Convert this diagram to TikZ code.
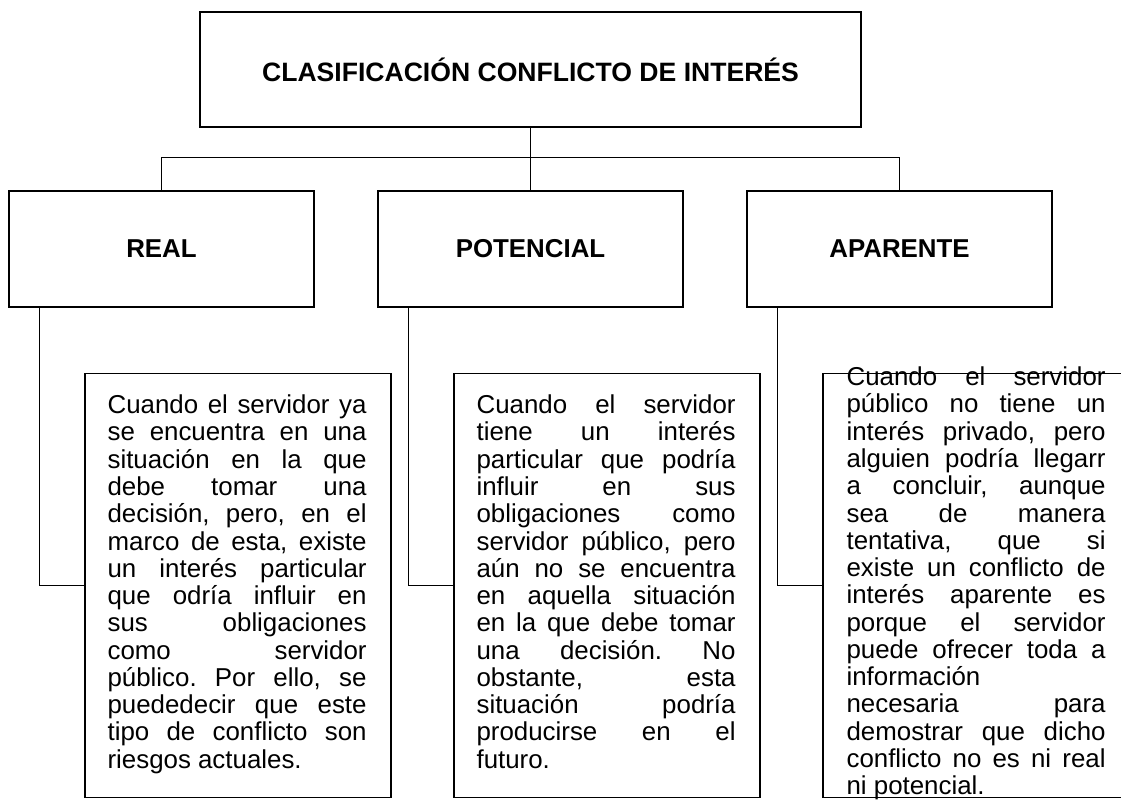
\documentclass[tikz,border=0pt]{standalone}
\usepackage{fontspec}
\setmainfont{Liberation Sans}
\usepackage{tikz}
\usetikzlibrary{positioning}

\newcommand{\bodyfont}{\fontsize{18.4}{19.4}\selectfont\frenchspacing
  \hyphenpenalty=10000\relax\exhyphenpenalty=10000\relax\hbadness=10000\relax}

\tikzset{
  rootbox/.style={draw, line width=1pt, minimum width=16.525cm, minimum height=2.875cm,
    font=\fontsize{18.9}{20}\selectfont\bfseries},
  headbox/.style={draw, line width=1pt, minimum width=7.625cm, minimum height=2.9cm,
    font=\fontsize{18.4}{19.6}\selectfont\bfseries},
  txtframe/.style={draw, line width=1pt, minimum width=7.65cm, minimum height=10.6cm, inner sep=0pt},
  txtbody/.style={text width=6.475cm, align=justify, inner sep=0pt, anchor=base west, font=\bodyfont},
  link/.style={line width=1pt}
}

\begin{document}
\begin{tikzpicture}[level distance=4.4875cm,
  level 1/.style={sibling distance=9.225cm},
  edge from parent/.style={draw, line width=1pt},
  edge from parent path={(\tikzparentnode.south) -- ++(0,-0.75) -| (\tikzchildnode.north)}]
  \useasboundingbox (0,0) rectangle (28.025,20.025);

  % Nodes
  \node[rootbox] (root) at (13.2625,18.2875) {CLASIFICACIÓN CONFLICTO DE INTERÉS}
    child {node[headbox] (real) {REAL}}
    child {node[headbox] (potencial) {POTENCIAL}}
    child {node[headbox] (aparente) {APARENTE}};

  \node[txtframe, below right=1.625cm and 1.9cm of real.south west] (realbox) {};
  \node[txtframe, below right=1.625cm and 1.9cm of potencial.south west] (potbox) {};
  \node[txtframe, below right=1.625cm and 1.9cm of aparente.south west] (apabox) {};

  \node[txtbody] (realtxt) at ([xshift=0.575cm, yshift=-1.025cm]realbox.north west) {Cuando el servidor ya\linebreak
    se encuentra en una\linebreak situación en la que\linebreak debe tomar una\linebreak
    decisión, pero, en el\linebreak marco de esta, existe\linebreak un interés particular\linebreak
    que odría influir en\linebreak sus obligaciones\linebreak como servidor\linebreak
    público. Por ello, se\linebreak puededecir que este\linebreak tipo de conflicto son\linebreak
    riesgos actuales.};
  \node[txtbody] (pottxt) at ([xshift=0.575cm, yshift=-1.025cm]potbox.north west) {Cuando el servidor\linebreak
    tiene un interés\linebreak particular que podría\linebreak influir en sus\linebreak
    obligaciones como\linebreak servidor público, pero\linebreak aún no se encuentra\linebreak
    en aquella situación\linebreak en la que debe tomar\linebreak una decisión. No\linebreak
    obstante, esta\linebreak situación podría\linebreak producirse en el\linebreak
    futuro.};
  \node[txtbody] (apatxt) at ([xshift=0.6cm, yshift=-0.325cm]apabox.north west) {Cuando el servidor\linebreak
    público no tiene un\linebreak interés privado, pero\linebreak alguien podría llegarr\linebreak
    a concluir, aunque\linebreak sea de manera\linebreak tentativa, que si\linebreak
    existe un conflicto de\linebreak interés aparente es\linebreak porque el servidor\linebreak
    puede ofrecer toda a\linebreak información\linebreak necesaria para\linebreak
    demostrar que dicho\linebreak conflicto no es ni real\linebreak ni potencial.};

  % Connectors
  \draw[link] ([xshift=0.775cm]real.south west) |- (realbox.west);
  \draw[link] ([xshift=0.775cm]potencial.south west) |- (potbox.west);
  \draw[link] ([xshift=0.775cm]aparente.south west) |- (apabox.west);
\end{tikzpicture}
\end{document}
